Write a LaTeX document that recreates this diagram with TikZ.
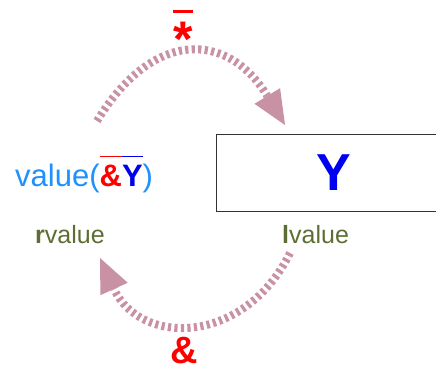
\documentclass[tikz,border=0pt]{standalone}
\usepackage{fontspec}
\setmainfont{Liberation Sans}
\usetikzlibrary{arrows.meta}
\definecolor{arrowpink}{RGB}{200,146,164}
\definecolor{lightblue}{RGB}{30,144,255}
\definecolor{deepblue}{RGB}{0,0,240}
\definecolor{valolive}{RGB}{94,110,51}
\newcommand\myol[3]{\setbox0=\hbox{#3}\rlap{\color{#1}\rule[#2]{\wd0}{1.5pt}}\box0}
\begin{document}
\begin{tikzpicture}[x=1pt,y=-1pt,
  flow/.style={draw=arrowpink, line width=8pt, dash pattern=on 3.2pt off 3.3pt,
    -{Triangle[length=34pt,width=30pt,line width=0pt]}},
  lbl/.style={text=valolive, font=\fontsize{25}{25}\selectfont, inner sep=0pt, anchor=base west}]
\useasboundingbox (0,0) rectangle (436,370);
\clip (0,0) rectangle (436,370);
% star with bar
\node[text=red, font=\bfseries\fontsize{50}{50}\selectfont, inner sep=0pt, anchor=base] (star) at (183,56) {*};
\draw[red, line width=3pt] (173,11) -- (193,11);
% box
\node[draw=black!80, line width=1pt, minimum width=236pt, minimum height=77pt, inner sep=0pt,
  text=deepblue, font=\bfseries\fontsize{52}{52}\selectfont] (box) at (334,172.5) {Y};
% value text
\node[anchor=base west, inner sep=0pt, text=lightblue, font=\fontsize{31}{31}\selectfont] (val) at (15,186)
  {value(\myol{red}{29pt}{\textcolor{red}{\bfseries\&}}\myol{deepblue}{29pt}{\textcolor{deepblue}{\bfseries Y}})};
\node[lbl] (rv) at (35,243) {\textbf{r}value};
\node[lbl] (lv) at (282,243) {\textbf{l}value};
% ampersand
\node[text=red, font=\bfseries\fontsize{38}{38}\selectfont, inner sep=0pt, anchor=base] (amp) at (184,363) {\&};
% arcs
\coordinate (u1) at (97,121);
\coordinate (u2) at (285,125);
\draw[flow] (u1) .. controls (152,30) and (227,30) .. (u2);
\coordinate (l1) at (290,253);
\coordinate (l2) at (100,258);
\draw[flow] (l1) .. controls (244,346) and (140,346) .. (l2);
\end{tikzpicture}
\end{document}
